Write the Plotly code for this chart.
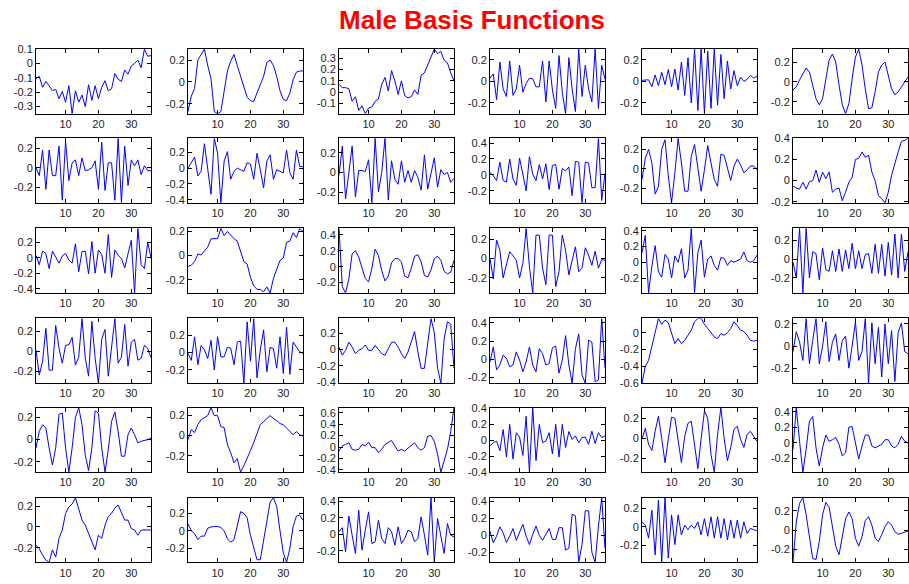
import plotly.graph_objects as go

# --- basis function samples (index 1..36), one list per panel, row-major ---
f01 = [-0.105, -0.09, -0.166, -0.125, -0.155, -0.19, -0.18, -0.245, -0.195, -0.27, -0.155, -0.35, -0.19, -0.27, -0.22, -0.30, -0.148, -0.257, -0.155, -0.245, -0.166, -0.12, -0.19, -0.177, -0.07, -0.11, -0.125, -0.045, -0.075, -0.018, 0.0, 0.023, -0.03, 0.1, 0.05, 0.055]
f02 = [-0.27, -0.13, -0.06, 0.2, 0.25, 0.3, 0.15, 0.03, -0.27, -0.29, -0.27, -0.1, 0.1, 0.19, 0.25, 0.15, 0.05, -0.05, -0.14, -0.17, -0.18, -0.1, -0.03, 0.05, 0.18, 0.2, 0.15, 0.05, -0.08, -0.16, -0.17, -0.1, 0.02, 0.09, 0.1, 0.1]
f03 = [0.07, 0.04, 0.04, 0.03, -0.08, -0.04, -0.16, -0.12, -0.19, -0.14, -0.13, -0.08, -0.06, 0.07, 0.13, 0.01, 0.19, 0.1, -0.02, 0.1, -0.03, -0.05, -0.04, 0.02, -0.02, 0.15, 0.17, 0.24, 0.31, 0.38, 0.34, 0.36, 0.28, 0.26, 0.17, 0.1]
f04 = [0.03, 0.07, -0.17, 0.18, -0.07, -0.14, 0.19, -0.13, -0.07, 0.15, -0.1, -0.02, 0.03, 0.025, -0.05, -0.05, 0.19, -0.19, 0.19, -0.08, -0.25, 0.24, -0.1, -0.3, 0.22, -0.07, -0.28, 0.3, -0.14, 0.15, -0.07, -0.19, 0.3, -0.25, 0.15, 0.02]
f05 = [0.01, 0.015, 0.015, -0.05, 0.06, -0.04, 0.085, -0.03, 0.11, -0.05, 0.115, -0.08, 0.18, -0.13, 0.22, -0.2, 0.3, -0.27, 0.3, -0.3, 0.28, -0.25, 0.3, -0.22, 0.25, -0.16, 0.19, -0.07, 0.1, -0.04, 0.04, 0.0, 0.02, 0.055, 0.03, 0.05]
f06 = [-0.08, -0.05, 0.02, 0.08, 0.14, 0.1, -0.03, -0.17, -0.23, -0.17, 0.03, 0.22, 0.28, 0.2, -0.03, -0.23, -0.32, -0.22, 0.03, 0.25, 0.33, 0.17, -0.07, -0.27, -0.26, -0.1, 0.1, 0.17, 0.2, 0.07, -0.07, -0.13, -0.1, -0.05, 0.0, 0.05]
f07 = [0.0, -0.08, 0.18, -0.22, 0.18, -0.08, -0.08, 0.22, -0.33, 0.27, -0.13, 0.05, 0.08, -0.08, 0.1, -0.03, -0.02, 0.0, 0.07, -0.22, 0.26, -0.23, 0.05, 0.05, -0.33, 0.3, -0.357, 0.22, -0.18, 0.08, 0.02, 0.08, -0.07, 0.02, -0.03, -0.03]
f08 = [0.0, 0.07, 0.14, -0.1, -0.04, 0.31, 0.02, -0.33, 0.38, 0.19, -0.44, 0.09, 0.21, -0.14, -0.04, 0.0, -0.02, -0.04, 0.07, 0.05, -0.14, 0.19, -0.02, -0.25, 0.09, 0.17, -0.14, -0.02, -0.04, -0.06, 0.23, -0.06, -0.14, 0.23, 0.02, 0.02]
f09 = [-0.03, 0.27, -0.27, -0.02, 0.27, -0.25, 0.02, 0.02, 0.01, 0.13, -0.31, 0.35, -0.2, 0.0, 0.35, -0.28, 0.12, -0.07, -0.12, 0.12, -0.1, 0.02, -0.1, 0.02, -0.05, -0.18, 0.18, -0.17, 0.0, 0.15, -0.15, 0.03, -0.02, 0.0, -0.1, -0.06]
f10 = [0.03, -0.01, -0.07, 0.16, -0.07, -0.09, 0.2, -0.05, -0.13, 0.21, 0.01, -0.2, 0.23, 0.01, -0.07, 0.13, -0.05, 0.14, -0.18, 0.12, 0.13, -0.18, 0.08, 0.05, 0.1, -0.26, 0.17, 0.16, -0.35, 0.16, 0.15, -0.16, -0.16, 0.46, -0.32, 0.02]
f11 = [-0.11, 0.11, 0.2, 0.06, -0.26, -0.18, 0.2, 0.3, -0.07, -0.35, -0.04, 0.315, 0.06, -0.23, -0.23, 0.13, 0.25, 0.03, -0.23, -0.01, 0.24, 0.06, -0.11, -0.18, 0.15, 0.14, 0.0, -0.12, 0.03, 0.1, 0.04, -0.04, -0.01, 0.03, 0.03, -0.01]
f12 = [-0.05, -0.07, -0.08, -0.015, -0.08, -0.01, 0.0, 0.1, -0.015, 0.08, 0.02, 0.08, -0.11, -0.08, -0.07, -0.19, -0.11, -0.015, 0.03, 0.2, 0.21, 0.27, 0.22, 0.24, 0.08, 0.0, -0.14, -0.17, -0.21, -0.11, 0.05, 0.17, 0.27, 0.37, 0.38, 0.4]
f13 = [0.03, -0.09, 0.085, 0.055, -0.14, 0.085, 0.01, -0.07, 0.025, 0.055, -0.03, -0.07, 0.18, -0.18, 0.08, 0.085, -0.21, 0.21, -0.2, 0.1, 0.04, -0.2, 0.3, -0.255, 0.1, 0.034, -0.01, -0.13, 0.05, 0.225, -0.455, 0.38, -0.09, -0.14, 0.2, 0.0]
f14 = [-0.09, -0.08, -0.05, 0.014, 0.005, 0.04, 0.07, 0.14, 0.14, 0.14, 0.226, 0.165, 0.2, 0.17, 0.14, 0.12, 0.03, -0.05, -0.07, -0.18, -0.25, -0.28, -0.28, -0.3, -0.26, -0.31, -0.19, -0.12, -0.04, -0.02, 0.11, 0.12, 0.19, 0.15, 0.226, 0.2]
f15 = [0.48, -0.25, -0.33, -0.15, 0.16, 0.2, 0.12, -0.03, -0.15, -0.19, -0.02, 0.22, 0.14, -0.05, -0.18, -0.12, 0.05, 0.1, 0.1, 0.06, -0.12, -0.14, -0.02, 0.13, 0.15, 0.06, -0.11, -0.13, -0.04, 0.1, 0.13, 0.08, -0.06, -0.09, -0.07, 0.08]
f16 = [0.0, -0.21, 0.19, 0.085, -0.2, -0.05, 0.07, 0.03, -0.02, -0.2, -0.05, 0.31, -0.085, -0.355, 0.24, 0.24, -0.1, -0.27, 0.24, 0.24, -0.29, -0.135, 0.24, 0.085, -0.17, -0.02, 0.12, -0.135, -0.1, 0.11, 0.035, -0.07, 0.075, -0.1, -0.01, -0.02]
f17 = [0.12, 0.34, -0.39, -0.05, 0.21, -0.12, -0.19, 0.1, 0.04, -0.2, 0.08, 0.0, 0.17, -0.2, -0.1, 0.43, -0.385, 0.12, 0.28, -0.19, 0.04, 0.08, -0.04, -0.1, 0.06, 0.05, -0.04, 0.02, 0.0, 0.02, 0.04, 0.13, 0.02, 0.0, 0.02, 0.09]
f18 = [-0.03, -0.2, 0.33, -0.36, 0.33, -0.2, 0.08, 0.06, -0.22, 0.12, -0.11, -0.13, 0.09, -0.13, 0.11, -0.13, 0.1, -0.1, 0.17, -0.1, 0.09, -0.1, 0.05, 0.06, -0.15, 0.16, -0.15, 0.16, -0.18, 0.18, -0.17, 0.27, -0.2, 0.27, -0.13, 0.08]
f19 = [0.01, -0.24, -0.1, 0.23, -0.19, -0.19, 0.26, 0.03, -0.12, 0.06, 0.065, 0.14, -0.14, -0.06, 0.33, -0.07, -0.25, 0.3, -0.07, -0.32, 0.12, 0.22, -0.25, 0.075, 0.33, -0.12, -0.06, 0.27, -0.15, 0.09, 0.12, -0.09, -0.07, 0.06, 0.03, -0.065]
f20 = [-0.01, -0.09, 0.18, -0.14, 0.08, 0.03, -0.07, 0.14, -0.2, 0.18, -0.05, -0.05, 0.06, 0.05, -0.14, 0.12, 0.13, -0.35, 0.35, -0.1, 0.39, -0.29, 0.03, 0.26, -0.22, 0.06, 0.045, -0.18, 0.18, -0.24, 0.29, -0.25, 0.12, 0.06, 0.01, -0.01]
f21 = [0.03, -0.07, -0.01, 0.09, 0.03, -0.05, -0.01, 0.01, 0.055, -0.01, -0.01, 0.05, 0.0, -0.05, -0.07, 0.01, 0.09, 0.09, 0.03, -0.05, -0.11, -0.03, 0.11, 0.22, -0.03, -0.23, -0.23, 0.05, 0.38, 0.21, -0.23, -0.41, 0.13, 0.34, 0.31, -0.23]
f22 = [-0.03, 0.135, -0.12, -0.065, 0.045, 0.007, -0.085, -0.065, 0.08, -0.01, -0.14, -0.03, 0.135, -0.065, -0.14, 0.115, 0.06, -0.065, -0.05, 0.125, 0.145, -0.155, -0.01, 0.26, -0.065, -0.265, 0.115, 0.28, -0.175, -0.265, 0.21, 0.19, -0.25, -0.23, 0.45, -0.1]
f23 = [-0.6, -0.4, -0.33, -0.15, 0.0, 0.17, 0.1, 0.15, 0.12, 0.0, -0.13, -0.07, -0.13, -0.09, -0.03, 0.03, 0.13, 0.17, 0.17, 0.1, 0.05, 0.0, -0.05, -0.07, -0.01, -0.03, 0.0, 0.05, 0.13, 0.085, 0.03, 0.015, -0.03, -0.09, -0.1, -0.09]
f24 = [-0.05, 0.13, 0.035, -0.13, 0.25, -0.16, 0.05, 0.25, -0.16, 0.0, 0.22, -0.14, 0.035, 0.11, -0.13, 0.05, 0.09, -0.2, 0.0, 0.22, -0.13, -0.05, 0.25, -0.335, 0.21, -0.16, 0.17, -0.28, 0.2, -0.16, 0.14, -0.32, 0.12, 0.21, -0.05, -0.07]
f25 = [-0.075, 0.075, 0.135, 0.105, -0.075, -0.23, -0.075, 0.23, 0.24, -0.075, -0.295, -0.075, 0.2, 0.29, 0.135, -0.14, -0.28, -0.075, 0.26, 0.24, -0.075, -0.295, -0.09, 0.165, 0.25, 0.075, -0.15, -0.15, 0.045, 0.105, 0.045, -0.03, -0.015, -0.01, 0.0, 0.015]
f26 = [-0.04, 0.06, 0.03, 0.11, 0.16, 0.18, 0.2, 0.28, 0.2, 0.2, 0.09, 0.08, -0.09, -0.17, -0.27, -0.23, -0.365, -0.3, -0.23, -0.15, -0.07, 0.03, 0.11, 0.14, 0.17, 0.2, 0.17, 0.15, 0.12, 0.11, 0.075, 0.04, 0.01, 0.04, 0.01, -0.005]
f27 = [-0.07, 0.02, 0.045, 0.075, -0.04, -0.055, -0.04, 0.045, 0.02, 0.085, -0.01, -0.01, -0.1, -0.04, 0.045, 0.075, 0.115, 0.02, -0.07, -0.04, -0.07, -0.02, 0.02, 0.075, -0.01, -0.055, -0.01, 0.19, 0.2, 0.1, -0.125, -0.44, -0.24, -0.04, 0.27, 0.69]
f28 = [-0.07, -0.03, -0.01, -0.13, 0.135, -0.21, 0.2, -0.235, 0.095, 0.04, -0.19, 0.3, -0.4, 0.41, -0.255, 0.2, -0.03, -0.01, 0.095, -0.17, 0.2, -0.21, 0.2, -0.09, 0.11, 0.01, 0.055, -0.03, 0.035, 0.04, -0.05, 0.115, -0.04, 0.095, 0.035, 0.055]
f29 = [-0.01, 0.1, -0.06, -0.12, 0.07, 0.22, 0.0, -0.24, -0.01, 0.21, 0.2, -0.03, -0.24, 0.02, 0.15, 0.17, -0.09, -0.3, 0.0, 0.27, 0.2, -0.16, -0.335, 0.04, 0.305, 0.0, -0.22, -0.09, 0.09, 0.12, -0.01, -0.09, 0.04, 0.07, 0.02, -0.03]
f30 = [-0.085, 0.455, 0.02, -0.38, -0.085, 0.28, 0.34, -0.065, -0.3, -0.065, 0.1, 0.02, 0.04, 0.07, -0.02, -0.17, -0.13, 0.2, 0.21, -0.02, -0.21, -0.04, 0.1, 0.1, -0.04, -0.065, -0.04, -0.02, 0.04, 0.04, -0.04, -0.065, -0.02, 0.085, 0.02, 0.0]
f31 = [-0.175, -0.21, -0.27, -0.32, -0.34, -0.22, -0.29, -0.11, -0.03, 0.13, 0.19, 0.22, 0.28, 0.18, 0.065, 0.016, -0.065, -0.145, -0.22, -0.08, -0.11, 0.016, 0.1, 0.13, 0.18, 0.21, 0.145, 0.065, 0.065, -0.016, -0.03, -0.08, -0.03, -0.03, -0.03, -0.03]
f32 = [0.08, 0.0, -0.03, -0.1, -0.06, -0.06, 0.03, 0.045, 0.05, 0.05, 0.04, 0.0, -0.09, -0.13, -0.1, 0.05, 0.22, 0.2, 0.15, -0.05, -0.2, -0.33, -0.33, -0.1, 0.15, 0.33, 0.38, 0.28, 0.0, -0.25, -0.36, -0.2, 0.05, 0.17, 0.18, 0.12]
f33 = [0.03, 0.08, -0.21, 0.22, -0.01, -0.23, 0.29, -0.19, 0.05, 0.27, -0.11, -0.09, 0.17, -0.05, -0.11, 0.08, 0.03, -0.13, 0.09, -0.11, -0.05, 0.05, 0.03, -0.09, -0.05, 0.21, -0.01, -0.25, 0.44, -0.336, 0.19, -0.01, -0.23, 0.13, -0.01, -0.03]
f34 = [0.05, -0.09, -0.01, 0.1, 0.03, -0.085, -0.01, 0.08, -0.06, 0.03, 0.13, -0.01, -0.11, 0.01, 0.11, 0.0, -0.06, 0.01, 0.08, -0.05, -0.05, 0.09, 0.09, -0.175, -0.155, 0.25, 0.23, -0.32, -0.11, 0.29, 0.29, -0.2, -0.32, 0.11, 0.445, -0.155]
f35 = [0.055, 0.02, -0.12, 0.18, -0.3, 0.29, -0.38, 0.315, -0.335, 0.13, -0.19, 0.13, -0.085, 0.02, -0.03, 0.02, -0.015, 0.055, -0.085, 0.09, -0.1, 0.11, -0.12, 0.11, -0.12, 0.09, -0.14, 0.075, -0.12, 0.075, -0.12, 0.055, -0.07, -0.015, -0.03, -0.04]
f36 = [-0.34, 0.087, 0.28, 0.34, 0.16, -0.087, -0.3, -0.31, -0.12, 0.16, 0.29, 0.24, 0.017, -0.17, -0.26, -0.087, 0.12, 0.19, 0.12, -0.087, -0.17, -0.07, 0.1, 0.14, 0.05, -0.087, -0.12, -0.05, 0.035, 0.087, 0.05, -0.017, -0.045, -0.035, -0.02, -0.01]

BASIS = [f01, f02, f03, f04, f05, f06, f07, f08, f09, f10, f11, f12,
         f13, f14, f15, f16, f17, f18, f19, f20, f21, f22, f23, f24,
         f25, f26, f27, f28, f29, f30, f31, f32, f33, f34, f35, f36]

X_TICKS = [10, 20, 30]
TITLE = "Male Basis Functions"

# y tick spacing per panel
Y_STEP = [0.1, 0.2, 0.1] + [0.2] * 33

# --- grid geometry in pixels ---
W, H = 909, 584
COL_LEFT = [36, 188, 339, 490, 642, 793]
COL_W = 115
ROW_TOP = [44, 135, 227, 319, 410, 502]
ROW_H = 66

TICK_FONT = dict(family="Liberation Sans, Arial, sans-serif", size=11, color="#222222")


def fmt(v):
    v = round(v, 6)
    if abs(v) < 1e-9:
        return "0"
    return f"{v:g}"


fig = go.Figure()
layout = {}
for i, ys in enumerate(BASIS):
    r, c = divmod(i, 6)
    n = len(ys)
    xs = list(range(1, n + 1))
    sfx = "" if i == 0 else str(i + 1)
    fig.add_trace(go.Scatter(x=xs, y=ys, mode="lines",
                             line=dict(color="#0000ff", width=1),
                             xaxis="x" + sfx, yaxis="y" + sfx,
                             showlegend=False, hoverinfo="skip"))
    lo, hi = min(ys), max(ys)
    step = Y_STEP[i]
    k0 = int(lo / step) - 1
    k1 = int(hi / step) + 1
    yt = [round(k * step, 6) for k in range(k0, k1 + 1)
          if lo - 1e-9 <= k * step <= hi + 1e-9]
    x0 = COL_LEFT[c] / W
    x1 = (COL_LEFT[c] + COL_W) / W
    y1 = 1 - ROW_TOP[r] / H
    y0 = 1 - (ROW_TOP[r] + ROW_H) / H
    common = dict(showline=True, linecolor="black", linewidth=1, mirror="ticks",
                  ticks="inside", ticklen=4, tickwidth=1, tickcolor="black",
                  showgrid=False, zeroline=False, tickfont=TICK_FONT, fixedrange=True)
    layout["xaxis" + sfx] = dict(domain=[x0, x1], range=[1, n], anchor="y" + sfx,
                                 tickvals=X_TICKS, ticktext=[str(t) for t in X_TICKS],
                                 **common)
    layout["yaxis" + sfx] = dict(domain=[y0, y1], range=[lo, hi], anchor="x" + sfx,
                                 tickvals=yt, ticktext=[fmt(t) for t in yt],
                                 **common)

fig.update_layout(**layout)
fig.update_layout(
    width=W, height=H,
    margin=dict(l=0, r=0, t=0, b=0),
    plot_bgcolor="white", paper_bgcolor="white",
    title=dict(text=TITLE, x=472 / W, y=1 - 14 / H, xanchor="center", yanchor="middle",
               xref="paper", yref="paper",
               font=dict(family="Liberation Sans, Arial, sans-serif", size=26,
                         color="#ff0000", weight="bold")),
)

fig.write_html("out.html")
